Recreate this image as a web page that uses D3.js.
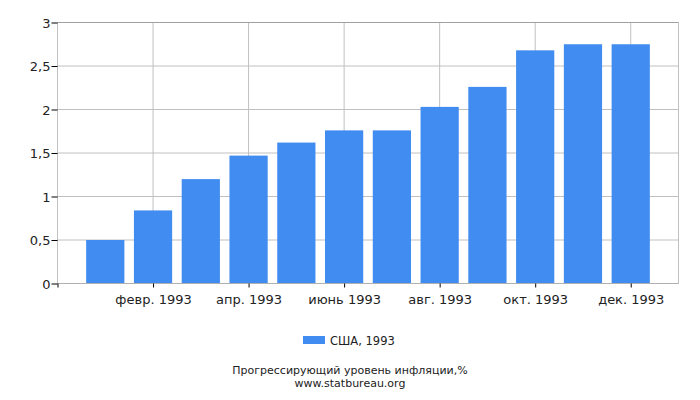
<!DOCTYPE html>
<html>
<head>
<meta charset="utf-8">
<script src="https://cdn.jsdelivr.net/npm/d3@7"></script>
<style>
  body { margin: 0; background: #fff; }
  svg text { font-family: "DejaVu Sans", sans-serif; fill: #222; }
</style>
</head>
<body>
<div id="chart"></div>
<script>
// months of 1993, index 1..12
var months = [1, 2, 3, 4, 5, 6, 7, 8, 9, 10, 11, 12];
var values = [0.5, 0.84, 1.2, 1.47, 1.62, 1.76, 1.76, 2.03, 2.26, 2.68, 2.75, 2.75];
var tickMonths = [0, 2, 4, 6, 8, 10, 12];
var tickLabels = ["", "февр. 1993", "апр. 1993", "июнь 1993", "авг. 1993", "окт. 1993", "дек. 1993"];
var yTicks = [0, 0.5, 1, 1.5, 2, 2.5, 3];
var seriesName = "США, 1993";
var title = "Прогрессирующий уровень инфляции,%";
var source = "www.statbureau.org";

var margin = {top: 22.5, right: 21.5, bottom: 116.5, left: 57.5};
var width = 700 - margin.left - margin.right,
    height = 400 - margin.top - margin.bottom;

var svg = d3.select("#chart").append("svg")
    .attr("width", 700)
    .attr("height", 400);

var g = svg.append("g")
    .attr("transform", "translate(" + margin.left + "," + margin.top + ")");

var x = d3.scaleLinear().domain([0, 13]).range([0, width]);
var y = d3.scaleLinear().domain([0, 3]).range([height, 0]);
var step = x(1) - x(0);
var barW = step * 0.8;

// horizontal grid
g.selectAll(".hgrid")
    .data(yTicks)
    .enter().append("line")
    .attr("x1", 0).attr("x2", width)
    .attr("y1", function(d) { return y(d); })
    .attr("y2", function(d) { return y(d); })
    .style("stroke", "#c0c0c0");

// vertical grid
g.selectAll(".vgrid")
    .data(tickMonths.slice(1))
    .enter().append("line")
    .attr("x1", function(d) { return x(d); })
    .attr("x2", function(d) { return x(d); })
    .attr("y1", 0).attr("y2", height)
    .style("stroke", "#c0c0c0");

// frame
g.append("line").attr("x1", 0).attr("x2", 0).attr("y1", 0).attr("y2", height).style("stroke", "#c0c0c0");
g.append("line").attr("x1", width).attr("x2", width).attr("y1", 0).attr("y2", height).style("stroke", "#c0c0c0");
g.append("line").attr("x1", 0).attr("x2", width).attr("y1", 0).attr("y2", 0).style("stroke", "#a0a0a0");

// bars
g.selectAll(".bar")
    .data(values)
    .enter().append("rect")
    .attr("class", "bar")
    .attr("x", function(d, i) { return x(months[i]) - barW / 2; })
    .attr("width", barW)
    .attr("y", function(d) { return y(d); })
    .attr("height", function(d) { return height - y(d); })
    .style("fill", "#418cf0");

// bottom axis line
g.append("line").attr("x1", 0).attr("x2", width).attr("y1", height).attr("y2", height).style("stroke", "#b0b0b0");

// y axis
var yAxis = d3.axisLeft(y)
    .tickValues(yTicks)
    .tickSize(6)
    .tickFormat(function(d) { return String(d).replace(".", ","); });
var yg = g.append("g").call(yAxis);
yg.select(".domain").remove();
yg.selectAll(".tick line").style("stroke", "#000");
yg.selectAll("text").style("font-size", "13px").attr("x", -7).attr("dy", "0.35em");

// x axis
var xAxis = d3.axisBottom(x)
    .tickValues(tickMonths)
    .tickSize(4)
    .tickFormat(function(d, i) { return tickLabels[i]; });
var xg = g.append("g").attr("transform", "translate(0," + height + ")").call(xAxis);
xg.select(".domain").remove();
xg.selectAll(".tick line").style("stroke", "#000");
xg.selectAll("text").style("font-size", "13px").attr("y", 11);

// legend
var legend = svg.append("g").attr("transform", "translate(303,336)");
legend.append("rect").attr("width", 22).attr("height", 8).style("fill", "#418cf0");
legend.append("text").attr("x", 27).attr("y", 8.5).style("font-size", "11.5px").text(seriesName);

// titles
svg.append("text").attr("x", 350).attr("y", 374).attr("text-anchor", "middle")
    .style("font-size", "11px").text(title);
svg.append("text").attr("x", 350).attr("y", 387).attr("text-anchor", "middle")
    .style("font-size", "11px").text(source);
</script>
</body>
</html>
